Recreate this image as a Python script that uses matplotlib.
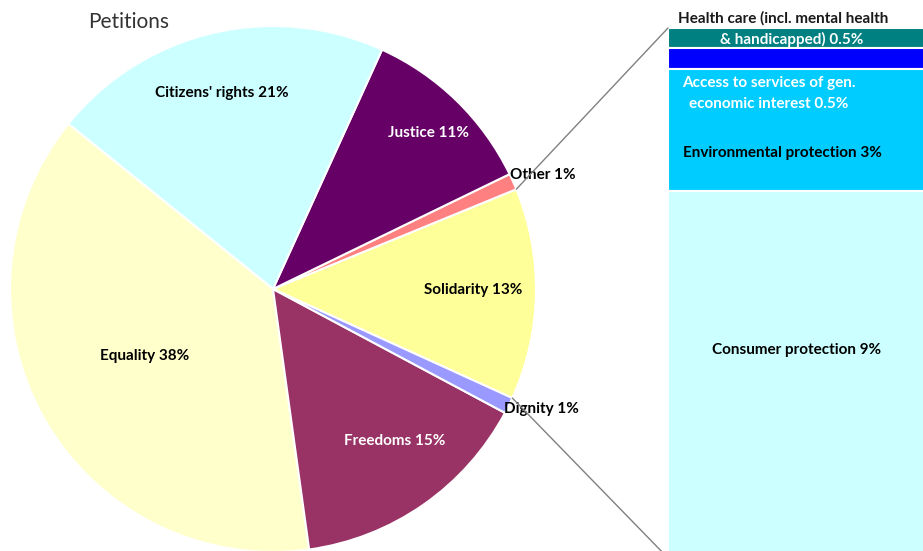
import numpy as np
import matplotlib
matplotlib.use("Agg")
import matplotlib.pyplot as plt
from matplotlib.patches import ConnectionPatch

# ---- data ----
pie_labels = ["Solidarity", "Other", "Justice", "Citizens' rights", "Equality", "Freedoms", "Dignity"]
pie_values = [13, 1, 11, 21, 38, 15, 1]
pie_colors = ["#FFFF99", "#FF8080", "#660066", "#CCFFFF", "#FFFFCC", "#993366", "#9999FF"]

bar_labels = ["Health care (incl. mental health\n& handicapped)", "Access to services of gen.\neconomic interest",
              "Environmental protection", "Consumer protection"]
bar_values = [0.5, 0.5, 3, 9]
bar_pct_text = ["0.5%", "0.5%", "3%", "9%"]
bar_colors = ["#008080", "#0000FF", "#00CCFF", "#CCFFFF"]

plt.rcParams['font.family'] = ['Lato', 'DejaVu Sans']

W, H = 923, 551
fig = plt.figure(figsize=(W / 100, H / 100), dpi=100)

# pie axes in pixel coordinates (y up)
ax = fig.add_axes([0, 0, 1, 1])
cx, cy, R = 273, H - 289, 263
start = -24.5
wedges, _ = ax.pie(pie_values, colors=pie_colors, startangle=start, counterclock=True,
                   center=(cx, cy), radius=R, frame=True,
                   wedgeprops=dict(edgecolor="white", linewidth=1.5))
ax.set_xlim(0, W)
ax.set_ylim(0, H)
ax.axis("off")

fs = 11
label_pos = {
    "Citizens' rights": (222, 93, "black"),
    "Justice": (428, 133, "white"),
    "Other": (543, 175, "black"),
    "Solidarity": (473, 290, "black"),
    "Dignity": (541, 409, "black"),
    "Freedoms": (395, 441, "white"),
    "Equality": (145, 356, "black"),
}
for lab, v in zip(pie_labels, pie_values):
    x, y, c = label_pos[lab]
    ax.text(x, H - y, f"{lab} {v}%", ha="center", va="center", fontsize=fs,
            fontweight="bold", color=c)

ax.text(88, H - 22, "Petitions", ha="left", va="center", fontsize=15, color="#333333")

# bar axes
total = sum(bar_values)
top_px, bot_px = 28, 558
bx0, bx1 = 668, 935
bax = fig.add_axes([bx0 / W, (H - bot_px) / H, (bx1 - bx0) / W, (bot_px - top_px) / H])
bax.set_xlim(0, 1)
bax.set_ylim(total, 0)
bax.axis("off")
bottom = 0
for v, col in zip(bar_values, bar_colors):
    bax.bar(0.5, v, bottom=bottom, width=1, color=col, edgecolor="white", linewidth=1.5)
    bottom += v

# bar labels (pixel coords, drawn on top of bar axes)
t = ax.transData
bax.text(783, H - 18, "Health care (incl. mental health", ha="center", va="center",
         fontsize=fs, fontweight="bold", color="#1a1a1a", transform=t)
bax.text(792, H - 39, "& handicapped) 0.5%", ha="center", va="center",
         fontsize=fs, fontweight="bold", color="white", transform=t)
bax.text(769, H - 93.5, "Access to services of gen.\neconomic interest 0.5%", ha="center", va="center",
         fontsize=fs, fontweight="bold", color="white", linespacing=1.55, transform=t)
bax.text(782, H - 153, "Environmental protection 3%", ha="center", va="center",
         fontsize=fs, fontweight="bold", color="black", transform=t)
bax.text(797, H - 350, "Consumer protection 9%", ha="center", va="center",
         fontsize=fs, fontweight="bold", color="black", transform=t)

# connection lines from Solidarity wedge edges to bar corners
w = wedges[0]
for ang, ybar in [(w.theta2, 0), (w.theta1, total)]:
    px = cx + R * np.cos(np.radians(ang))
    py = cy + R * np.sin(np.radians(ang))
    con = ConnectionPatch(xyA=(0, ybar), coordsA=bax.transData,
                          xyB=(px, py), coordsB=ax.transData,
                          color="#808080", linewidth=1)
    fig.add_artist(con)

fig.savefig("out.png", dpi=100)
